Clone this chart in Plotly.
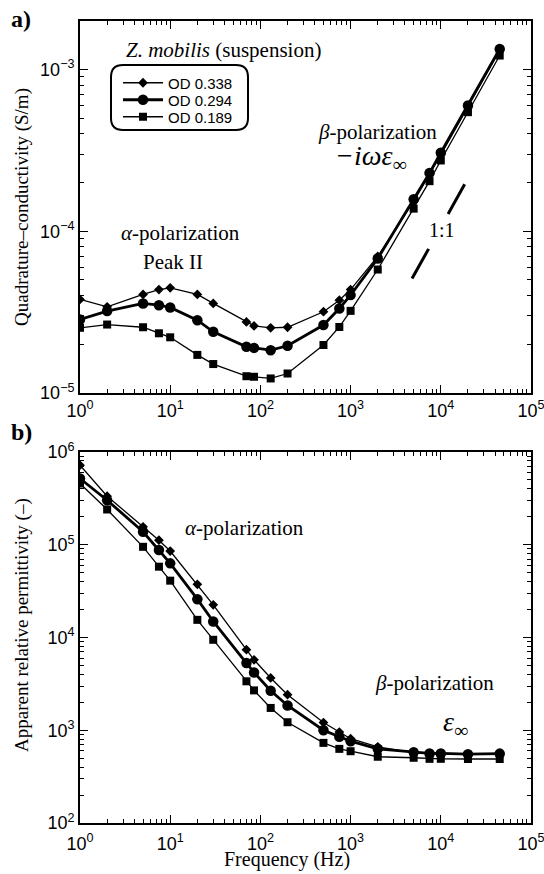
import plotly.graph_objects as go

# ---------------- data ----------------
freq = [1, 2, 5, 7.5, 10, 20, 30, 70, 85, 130, 200, 500, 750, 1000, 2000,
        5000, 7500, 10000, 20000, 45000]

sigma_od338 = [3.79e-5, 3.41e-5, 4.07e-5, 4.36e-5, 4.47e-5, 4.07e-5, 3.58e-5,
               2.75e-5, 2.60e-5, 2.53e-5, 2.55e-5, 3.18e-5, 3.75e-5, 4.36e-5,
               7.0e-5, 1.53e-4, 2.25e-4, 2.98e-4, 5.9e-4, 1.32e-3]
sigma_od294 = [2.85e-5, 3.21e-5, 3.58e-5, 3.49e-5, 3.38e-5, 2.82e-5, 2.39e-5,
               1.93e-5, 1.90e-5, 1.84e-5, 1.96e-5, 2.63e-5, 3.33e-5, 4.03e-5,
               6.78e-5, 1.58e-4, 2.29e-4, 3.06e-4, 6.0e-4, 1.34e-3]
sigma_od189 = [2.53e-5, 2.65e-5, 2.55e-5, 2.34e-5, 2.21e-5, 1.72e-5, 1.51e-5,
               1.27e-5, 1.26e-5, 1.23e-5, 1.32e-5, 1.98e-5, 2.56e-5, 3.22e-5,
               5.8e-5, 1.38e-4, 2.04e-4, 2.74e-4, 5.45e-4, 1.22e-3]

eps_od338 = [7.2e5, 3.34e5, 1.56e5, 1.12e5, 8.55e4, 3.75e4, 2.25e4, 7.4e3,
             5.75e3, 3.66e3, 2.42e3, 1.21e3, 955, 810, 662, 575, 560, 555, 550, 555]
eps_od294 = [5.18e5, 3.02e5, 1.38e5, 8.77e4, 6.3e4, 2.59e4, 1.49e4, 5.3e3,
             4.2e3, 2.67e3, 1.85e3, 1.0e3, 850, 762, 630, 580, 562, 562, 552, 560]
eps_od189 = [4.57e5, 2.4e5, 9.5e4, 5.8e4, 4.1e4, 1.55e4, 9.45e3, 3.37e3,
             2.69e3, 1.74e3, 1.22e3, 731, 630, 594, 518, 505, 492, 492, 490, 490]

series_names = ["OD 0.338", "OD 0.294", "OD 0.189"]

# tick values / labels
x_tickvals = [1, 10, 100, 1000, 10000, 100000]
x_ticktext = ["10<sup>0</sup>", "10<sup>1</sup>", "10<sup>2</sup>",
              "10<sup>3</sup>", "10<sup>4</sup>", "10<sup>5</sup>"]
y1_tickvals = [1e-5, 1e-4, 1e-3]
y1_ticktext = ["10<sup>−5</sup>", "10<sup>−4</sup>", "10<sup>−3</sup>"]
y2_tickvals = [1e2, 1e3, 1e4, 1e5, 1e6]
y2_ticktext = ["10<sup>2</sup>", "10<sup>3</sup>", "10<sup>4</sup>",
               "10<sup>5</sup>", "10<sup>6</sup>"]

# 1:1 slope reference segment
oneone_x = [4800, 18500]
oneone_y0 = 5.1e-5

# ---------------- layout helpers ----------------
W, H = 544, 874
L, R, T, B = 80, 13, 21, 51


def px(xp):
    return (xp - L) / (W - L - R)


def py(yp):
    return (H - B - yp) / (H - T - B)


serif = "Liberation Serif"
sans = "Liberation Sans"

symbols = ["diamond", "circle", "square"]
msizes = [7.5, 10.5, 8]
lwidths = [1.3, 2.8, 1.3]
legend_ids = ["legend", "legend2", "legend3"]
legend_rows = [83, 100, 117]

fig = go.Figure()

top_vals = [sigma_od338, sigma_od294, sigma_od189]
bot_vals = [eps_od338, eps_od294, eps_od189]

for i, name in enumerate(series_names):
    fig.add_trace(go.Scatter(
        x=freq, y=top_vals[i], name=name, mode="lines+markers",
        line=dict(color="black", width=lwidths[i]),
        marker=dict(symbol=symbols[i], size=msizes[i], color="black"),
        xaxis="x", yaxis="y", showlegend=True, legend=legend_ids[i]))
for i, name in enumerate(series_names):
    fig.add_trace(go.Scatter(
        x=freq, y=bot_vals[i], name=name, mode="lines+markers",
        line=dict(color="black", width=lwidths[i]),
        marker=dict(symbol=symbols[i], size=msizes[i], color="black"),
        xaxis="x2", yaxis="y2", showlegend=False))

fig.add_trace(go.Scatter(
    x=oneone_x, y=[oneone_y0 * xv / oneone_x[0] for xv in oneone_x],
    mode="lines", line=dict(color="black", width=3, dash="34px,40px"),
    xaxis="x", yaxis="y", showlegend=False, hoverinfo="skip"))

axis_common = dict(
    type="log", showline=True, linewidth=1.8, linecolor="black",
    mirror="ticks", ticks="inside", ticklen=8, tickwidth=1.3,
    tickcolor="black", showgrid=False, automargin=False,
    ticklabeloverflow="allow",
    zeroline=False, tickfont=dict(family=sans, size=18, color="black"),
    minor=dict(ticks="inside", ticklen=4, tickwidth=1, tickcolor="black",
               dtick="D1", showgrid=False),
)

legend_common = dict(xanchor="left", yanchor="middle",
                     font=dict(family=sans, size=15, color="black"),
                     bgcolor="rgba(0,0,0,0)", borderwidth=0, itemwidth=40)

fig.update_layout(
    width=W, height=H,
    margin=dict(l=L, r=R, t=T, b=B, autoexpand=False),
    paper_bgcolor="white", plot_bgcolor="white",
    xaxis=dict(domain=[0, 1], range=[0, 5], anchor="y",
               tickvals=x_tickvals, ticktext=x_ticktext, **axis_common),
    yaxis=dict(domain=[py(393), 1], range=[-5, -2.7], anchor="x",
               tickvals=y1_tickvals, ticktext=y1_ticktext, **axis_common),
    xaxis2=dict(domain=[0, 1], range=[0, 5], anchor="y2",
                tickvals=x_tickvals, ticktext=x_ticktext,
                ticklabelstandoff=3, **axis_common),
    yaxis2=dict(domain=[0, py(452)], range=[2, 6], anchor="x2",
                tickvals=y2_tickvals, ticktext=y2_ticktext, **axis_common),
    legend=dict(x=px(118), y=py(legend_rows[0]), **legend_common),
    legend2=dict(x=px(118), y=py(legend_rows[1]), **legend_common),
    legend3=dict(x=px(118), y=py(legend_rows[2]), **legend_common),
    showlegend=True,
)


def rounded_path(x0, y0, x1, y1, r):
    pts = [
        ("M", [(x0 + r, y0)]), ("L", [(x1 - r, y0)]),
        ("Q", [(x1, y0), (x1, y0 + r)]), ("L", [(x1, y1 - r)]),
        ("Q", [(x1, y1), (x1 - r, y1)]), ("L", [(x0 + r, y1)]),
        ("Q", [(x0, y1), (x0, y1 - r)]), ("L", [(x0, y0 + r)]),
        ("Q", [(x0, y0), (x0 + r, y0)]),
    ]
    s = ""
    for cmd, ps in pts:
        s += cmd + " ".join(f"{px(a):.5f},{py(b):.5f}" for a, b in ps) + " "
    return s + "Z"


fig.add_shape(type="path", xref="paper", yref="paper",
              path=rounded_path(111, 65, 248, 130, 12),
              line=dict(color="black", width=2))


def ann(text, x, y, size, family=serif, angle=0):
    fig.add_annotation(text=text, x=px(x), y=py(y), xref="paper", yref="paper",
                       showarrow=False, xanchor="center", yanchor="middle",
                       textangle=angle,
                       font=dict(family=family, size=size, color="black"))


ann("<b>a)</b>", 21, 19, 24)
ann("<b>b)</b>", 21, 432, 24)
ann("<i>Z. mobilis</i> (suspension)", 223, 50, 21)
ann("<i>α</i>-polarization", 180, 233, 21)
ann("Peak II", 173, 262, 21)
ann("<i>β</i>-polarization", 377, 132, 21)
ann("<i>−iωε</i><sub>∞</sub>", 370, 158, 28)
ann("1:1", 442, 230, 20)
ann("<i>α</i>-polarization", 244, 528, 21)
ann("<i>β</i>-polarization", 434, 683, 21)
ann("<i>ε</i><sub>∞</sub>", 455, 723, 28)
ann("Quadrature–conductivity (S/m)", 22, 207, 19, angle=-90)
ann("Apparent relative permittivity (–)", 22, 625, 19, angle=-90)
ann("Frequency (Hz)", 287, 859, 20)

fig.write_html("out.html",
               config={"displayModeBar": False},
               post_script="document.body.style.margin='0';"
                           "document.body.style.overflow='hidden';")
